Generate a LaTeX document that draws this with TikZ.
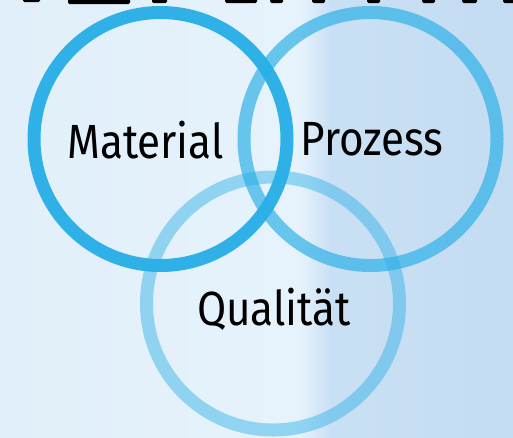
\documentclass[tikz,border=0pt]{standalone}
\usepackage{fontspec}
\usepackage{xcolor}
\newfontfamily\venfont[FakeStretch=0.88]{Fira Sans}
\usetikzlibrary{positioning}
\definecolor{venblue}{HTML}{2AAFE7}
\definecolor{bgleft}{HTML}{E1EFFA}
\definecolor{bgmid}{HTML}{E6F3FC}
\definecolor{bgright}{HTML}{C9E0F4}
\definecolor{bgfar}{HTML}{C4DCF2}

\begin{document}
\begin{tikzpicture}[x=1pt,y=-1pt,
		ring/.style={circle,draw=venblue,line width=13pt,minimum size=253pt,inner sep=0pt},
		lbl/.style={font=\venfont\fontsize{48}{52}\selectfont,anchor=base,inner sep=0pt},
		ink/.style={fill=black,rounded corners=1.5pt}]
		\clip (0,0) rectangle (513,437);
		% background
		\shade[left color=bgleft,right color=bgmid] (0,0) rectangle (300,437);
		\shade[left color=bgmid,right color=bgright] (300,0) rectangle (330,437);
		\shade[left color=bgright,right color=bgfar] (330,0) rectangle (513,437);
		% cut-off heading at the top
		\fill[ink] (23,-4) rectangle (40,2);
		\fill[ink] (68,-4) rectangle (130,4);
		\fill[ink] (152,-4) rectangle (167,3);
		\fill[ink] (225,-4) rectangle (257,3);
		\fill[ink] (270,-4) rectangle (283,3);
		\fill[ink] (312,-4) rectangle (325,3);
		\fill[ink] (367,-4) rectangle (380,3);
		\fill[ink] (422,-4) rectangle (435,3);
		\fill[ink] (462,-4) rectangle (477,3);
		\fill[ink] (503,-4) rectangle (516,3);
		%
		\node[ring,draw opacity=0.45] (Q) at (273,303.5) {};
		\node[ring,draw opacity=0.68] (P) at (370.5,139) {};
		\node[ring,draw opacity=0.97] (M) at (160.5,139) {};
		% labels
		\node[lbl] (Mtext) at (145.5,158) {Material};
		\node[lbl] (Ptext) at (372,155) {Prozess};
		\node[lbl] (Qtext) at (274,325) {Qualität};
	\end{tikzpicture}
\end{document}
